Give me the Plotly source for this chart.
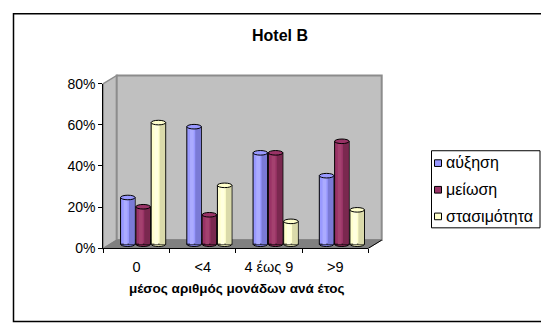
import plotly.graph_objects as go

# ---- data -------------------------------------------------------------
categories = ["0", "<4", "4 έως 9", ">9"]
series_names = ["αύξηση", "μείωση", "στασιμότητα"]
increase = [0.227, 0.571, 0.444, 0.333]
decrease = [0.182, 0.143, 0.444, 0.500]
stable = [0.591, 0.286, 0.111, 0.167]
y_ticks = [0, 0.2, 0.4, 0.6, 0.8]

series_values = [increase, decrease, stable]
base_colors = ["#9999FF", "#993366", "#FFFFCC"]
light_colors = ["#ABABFF", "#A4416F", "#FFFFE0"]
shade_colors = ["#7A7AD6", "#7A284F", "#DADAAA"]

# ---- geometry (pixels of the 541x331 canvas) ---------------------------
W, H = 541, 331
FX0, FX1 = 103.3, 368.3        # front plane, left/right
FY0, FYT = 252.5, 79.5         # front plane, y of 0% and of 80%
DX, DY = 13.4, 8.6             # depth shift of the back wall
Y_MAX = 0.8
Y_MIN2 = -0.03                 # room under the bar bases for the rounded bottoms
SCALE = (FY0 - FYT) / Y_MAX    # pixels per unit of value
FONT = "Liberation Sans, Arial, sans-serif"


def px(x):
    return x / W


def py(y):
    return 1 - y / H


def path(points):
    return "M " + " L ".join(f"{px(x):.5f},{py(y):.5f}" for x, y in points) + " Z"


fig = go.Figure()

# bar slots inside each category (category units)
bar_w = 0.219
bar_gap = 0.012
group_w = 3 * bar_w + 2 * bar_gap
offsets = [-group_w / 2 + k * (bar_w + bar_gap) for k in range(3)]

for k, (name, vals) in enumerate(zip(series_names, series_values)):
    fig.add_trace(go.Bar(
        x=categories, y=vals, name=name,
        xaxis="x2", yaxis="y2",
        offset=offsets[k], width=bar_w,
        marker=dict(color=base_colors[k], line=dict(color="black", width=1)),
        showlegend=False,
        hovertemplate="%{x}: %{y:.1%}<extra>" + name + "</extra>",
    ))
    # highlight band of the cylinder
    fig.add_trace(go.Bar(
        x=categories, y=vals,
        xaxis="x2", yaxis="y2",
        offset=offsets[k] + 0.22 * bar_w, width=0.26 * bar_w,
        marker=dict(color=light_colors[k], line=dict(width=0)),
        showlegend=False, hoverinfo="skip",
    ))
    # darker right side of the cylinder
    fig.add_trace(go.Bar(
        x=categories, y=vals,
        xaxis="x2", yaxis="y2",
        offset=offsets[k] + 0.58 * bar_w, width=0.38 * bar_w,
        marker=dict(color=shade_colors[k], line=dict(width=0)),
        showlegend=False, hoverinfo="skip",
    ))

# dummy trace to give the front axes a subplot
fig.add_trace(go.Scatter(x=categories, y=[None] * len(categories),
                         mode="markers", showlegend=False, hoverinfo="skip"))

shapes = []
# outer chart frame
shapes.append(dict(type="rect", xref="paper", yref="paper",
                   x0=px(13.5), x1=px(560), y0=py(329.5), y1=py(6),
                   line=dict(color="black", width=1.5), fillcolor="white",
                   layer="below"))
# side wall
shapes.append(dict(type="path", xref="paper", yref="paper", layer="below",
                   path=path([(FX0, FY0), (FX0, FYT), (FX0 + DX, FYT - DY), (FX0 + DX, FY0 - DY)]),
                   fillcolor="#C0C0C0", line=dict(color="#8C8C8C", width=1.5)))
# back wall
shapes.append(dict(type="rect", xref="paper", yref="paper", layer="below",
                   x0=px(FX0 + DX), x1=px(FX1 + DX), y0=py(FY0 - DY), y1=py(FYT - DY),
                   fillcolor="#C0C0C0", line=dict(color="#8C8C8C", width=2)))
# floor
shapes.append(dict(type="path", xref="paper", yref="paper", layer="below",
                   path=path([(FX0, FY0), (FX1, FY0), (FX1 + DX, FY0 - DY), (FX0 + DX, FY0 - DY)]),
                   fillcolor="#808080", line=dict(color="#808080", width=1)))
shapes.append(dict(type="line", xref="paper", yref="paper", layer="below",
                   x0=px(FX1), y0=py(FY0), x1=px(FX1 + DX), y1=py(FY0 - DY),
                   line=dict(color="black", width=1)))

# cylinder caps and rounded bottoms
e = 2.4 / SCALE
for k, vals in enumerate(series_values):
    for i, v in enumerate(vals):
        x0 = i + offsets[k]
        x1 = x0 + bar_w
        shapes.append(dict(type="circle", xref="x2", yref="y2", layer="below",
                           x0=x0, x1=x1, y0=-e, y1=e,
                           fillcolor=shade_colors[k], line=dict(color="black", width=1)))
        shapes.append(dict(type="circle", xref="x2", yref="y2", layer="above",
                           x0=x0, x1=x1, y0=v - e, y1=v + e,
                           fillcolor=base_colors[k], line=dict(color="black", width=1)))

# legend box
LX0, LX1, LY0, LY1 = 431.5, 540, 150, 231
shapes.append(dict(type="rect", xref="paper", yref="paper",
                   x0=px(LX0), x1=px(LX1), y0=py(LY1), y1=py(LY0),
                   line=dict(color="black", width=1), fillcolor="white"))
legend_y = [163, 191, 219]
annotations = []
for k, name in enumerate(series_names):
    cy = legend_y[k]
    shapes.append(dict(type="rect", xref="paper", yref="paper",
                       x0=px(434.5), x1=px(441.5), y0=py(cy + 3.5), y1=py(cy - 3.5),
                       fillcolor=base_colors[k], line=dict(color="black", width=1)))
    annotations.append(dict(xref="paper", yref="paper", x=px(443.5), y=py(cy),
                            text=name, showarrow=False, xanchor="left", yanchor="middle",
                            font=dict(size=16, color="black")))

annotations.append(dict(xref="paper", yref="paper", x=px(280), y=py(29),
                        text="<b>Hotel B</b>", showarrow=False,
                        xanchor="center", yanchor="middle",
                        font=dict(size=16, color="black")))
annotations.append(dict(xref="paper", yref="paper", x=px(236.5), y=py(295),
                        text="<b>μέσος αριθμός μονάδων ανά έτος</b>", showarrow=False,
                        xanchor="center", yanchor="middle",
                        font=dict(size=13.5, color="black")))

fig.update_layout(
    width=W, height=H,
    margin=dict(l=0, r=0, t=0, b=0),
    paper_bgcolor="white",
    plot_bgcolor="rgba(0,0,0,0)",
    barmode="overlay",
    font=dict(family=FONT, size=14, color="black"),
    showlegend=False,
    shapes=shapes,
    annotations=annotations,
    xaxis=dict(domain=[px(FX0), px(FX1)], anchor="y", type="category",
               categoryorder="array", categoryarray=categories,
               range=[-0.5, len(categories) - 0.5],
               showline=True, linecolor="black", linewidth=1,
               ticks="outside", tickson="boundaries", ticklen=4, tickcolor="black",
               ticklabelstandoff=5, tickfont=dict(size=14.5),
               showgrid=False, zeroline=False, fixedrange=True),
    yaxis=dict(domain=[py(FY0), py(FYT)], anchor="x",
               range=[0, Y_MAX], tickvals=y_ticks, tickformat=".0%",
               showline=True, linecolor="black", linewidth=1,
               ticks="outside", ticklen=4, tickcolor="black",
               tickfont=dict(size=14),
               showgrid=False, zeroline=False, fixedrange=True),
    xaxis2=dict(domain=[px(FX0 + DX / 2), px(FX1 + DX / 2)], anchor="y2",
                type="category", categoryorder="array", categoryarray=categories,
                range=[-0.5, len(categories) - 0.5], visible=False, fixedrange=True),
    yaxis2=dict(domain=[py(FY0 - DY / 2 - Y_MIN2 * SCALE), py(FYT - DY / 2)], anchor="x2",
                range=[Y_MIN2, Y_MAX], visible=False, fixedrange=True),
)

fig.write_html("out.html")
